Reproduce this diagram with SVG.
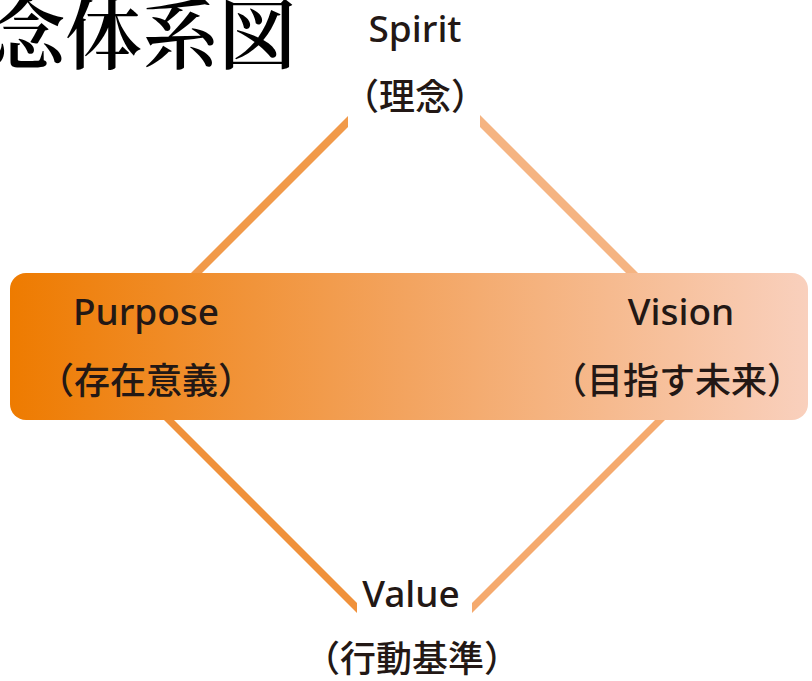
<svg xmlns="http://www.w3.org/2000/svg" width="812" height="681" viewBox="0 0 812 681">
<defs>
<linearGradient id="band" x1="10" y1="0" x2="808" y2="0" gradientUnits="userSpaceOnUse">
<stop offset="0" stop-color="#EE7B00"/>
<stop offset="0.5" stop-color="#F3A460"/>
<stop offset="1" stop-color="#F9D0BD"/>
</linearGradient>
<style>
.lbl{font-family:"Noto Sans","Noto Sans CJK JP",sans-serif;font-size:37px;font-weight:500;fill:#231815;text-anchor:middle}
.jp{font-family:"Noto Sans CJK JP",sans-serif;font-size:36px;font-weight:500;fill:#231815;text-anchor:middle}
.title{font-family:"Noto Serif CJK JP","Noto Sans CJK JP",serif;font-size:77px;font-weight:600;fill:#000}
</style>
</defs>
<rect width="812" height="681" fill="#fff"/>
<text class="title" x="-12" y="63">念体系図</text>
<g id="connectors">
<polygon points="348,116 348,127 190,285 179,285" fill="#F19A4A"/>
<polygon points="480,115 650,285 638,285 480,127" fill="#F5B482"/>
<polygon points="164,410 357,603 357,613 154,410" fill="#F0913B"/>
<polygon points="665,410 675,410 472,613 472,603" fill="#F5AA6E"/>
</g>
<g id="band-node">
<rect x="10" y="273" width="798" height="147" rx="16" fill="url(#band)"/>
</g>
<g id="spirit">
<text class="lbl" x="415" y="42">Spirit</text>
<text class="jp" x="415" y="110">（理念）</text>
</g>
<g id="purpose">
<text class="lbl" x="146" y="325">Purpose</text>
<text class="jp" x="146" y="394">（存在意義）</text>
</g>
<g id="vision">
<text class="lbl" x="681" y="325">Vision</text>
<text class="jp" x="677" y="394">（目指す未来）</text>
</g>
<g id="value">
<text class="lbl" x="411" y="607">Value</text>
<text class="jp" x="412" y="672">（行動基準）</text>
</g>
</svg>
